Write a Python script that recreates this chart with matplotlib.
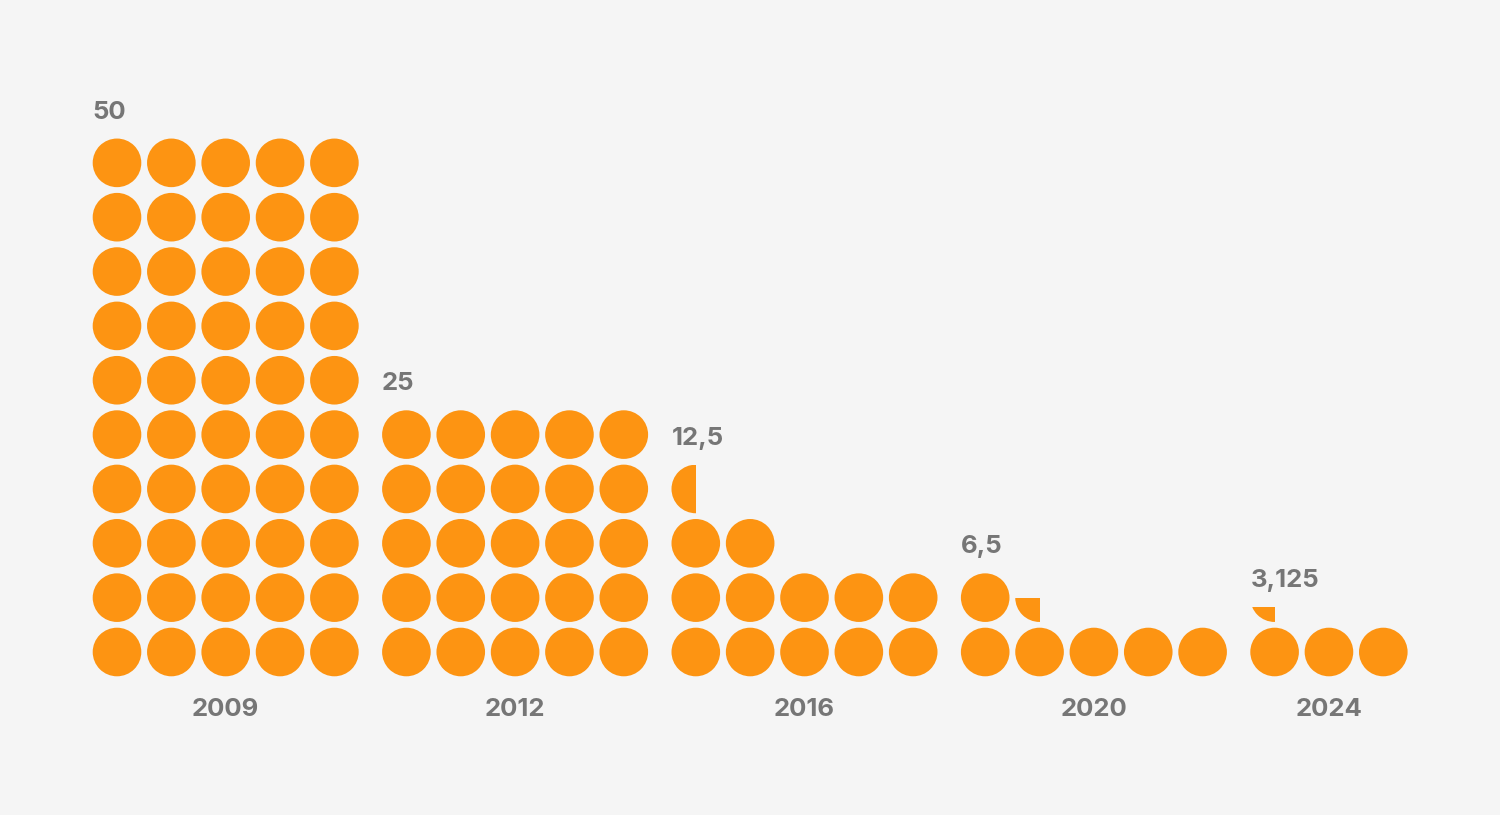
import numpy as np
import matplotlib
matplotlib.use("Agg")
import matplotlib.pyplot as plt
from matplotlib.patches import Circle, Rectangle

# block reward per halving era
years = ["2009", "2012", "2016", "2020", "2024"]
values = [50, 25, 12.5, 6.25, 3.125]
value_labels = ["50", "25", "12,5", "6,5", "3,125"]
group_cols = [5, 5, 5, 5, 3]

# coins per row, bottom row first (1 = whole coin, <1 = partial)
rows_2009 = [[1, 1, 1, 1, 1]] * 10
rows_2012 = [[1, 1, 1, 1, 1]] * 5
rows_2016 = [[1, 1, 1, 1, 1], [1, 1, 1, 1, 1], [1, 1], [0.5]]
rows_2020 = [[1, 1, 1, 1, 1], [1, 0.25]]
rows_2024 = [[1, 1, 1], [0.125]]
group_rows = [rows_2009, rows_2012, rows_2016, rows_2020, rows_2024]

ORANGE = "#FD9412"
GREY = "#767676"
BG = "#F5F5F5"

R = 24.3          # coin radius (px)
PITCH = 54.35     # coin spacing
GAP = 72          # spacing between last coin of one group and first of next
X0, Y0 = 117, 652  # centre of the first, bottom coin


def cut_depth(frac):
    # left half of the coin, cut from the top so that the area matches frac
    lo, hi = -1.0, 1.0
    for _ in range(60):
        mid = (lo + hi) / 2
        t = np.linspace(mid, 1, 400)
        area = np.trapezoid(np.sqrt(np.clip(1 - t ** 2, 0, None)), t) / np.pi
        if area > frac:
            lo = mid
        else:
            hi = mid
    return (lo + hi) / 2 * R


fig = plt.figure(figsize=(15, 8.15), dpi=100)
fig.patch.set_facecolor(BG)
ax = fig.add_axes([0, 0, 1, 1])
ax.set_xlim(0, 1500)
ax.set_ylim(815, 0)
ax.set_aspect("equal")
ax.axis("off")

font = dict(family=["Inter", "DejaVu Sans"], weight="bold", color=GREY, fontsize=18.5)

x_start = X0
for year, lab, ncols, rows in zip(years, value_labels, group_cols, group_rows):
    top = Y0
    for r_i, row in enumerate(rows):
        cy = Y0 - r_i * PITCH
        for c_i, f in enumerate(row):
            cx = x_start + c_i * PITCH
            circ = Circle((cx, cy), R, facecolor=ORANGE, edgecolor="none")
            ax.add_patch(circ)
            if f < 1:
                d = cut_depth(f)
                clip = Rectangle((cx - R - 1, cy + d), R + 1, R - d + 1,
                                 transform=ax.transData)
                circ.set_clip_path(clip)
                top = min(top, cy + d)
            else:
                top = min(top, cy - R)
    ax.text(x_start - R, top - 20, lab, ha="left", va="baseline", **font)
    mid = x_start + (ncols - 1) * PITCH / 2
    ax.text(mid, Y0 + R + 40, year, ha="center", va="baseline", **font)
    x_start += (ncols - 1) * PITCH + GAP

fig.savefig("out.png", dpi=100, facecolor=BG)
